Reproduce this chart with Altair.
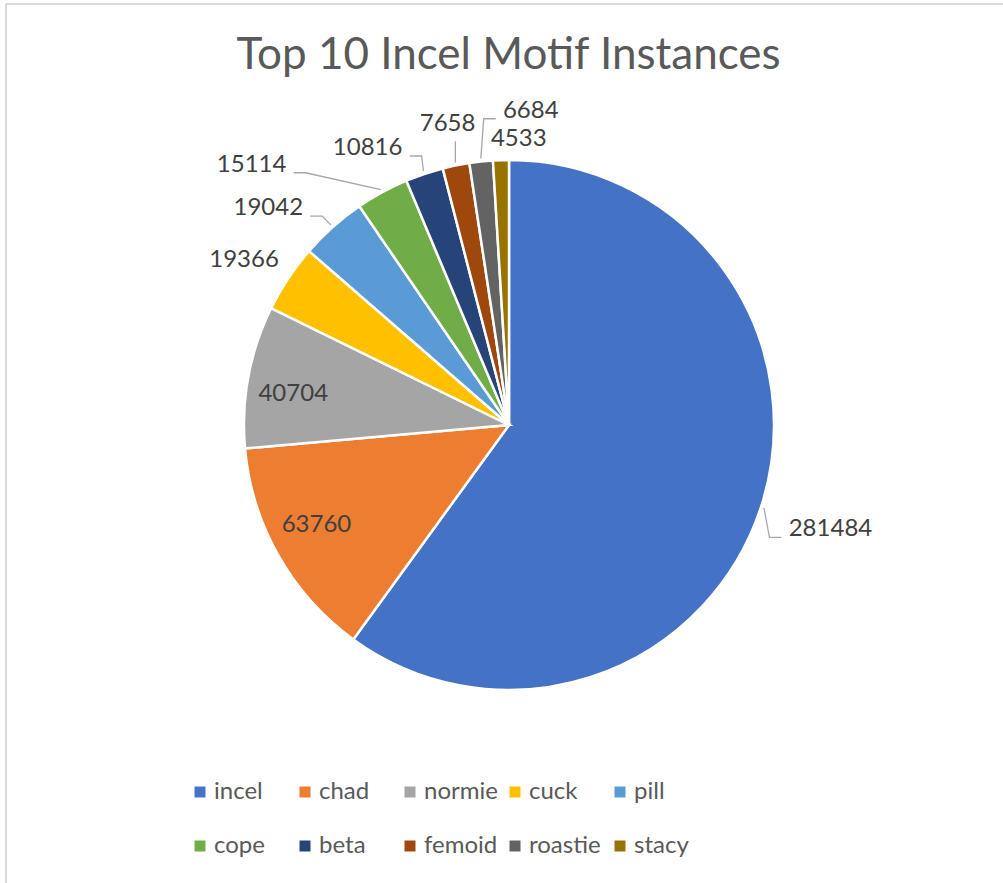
import math
import altair as alt
import pandas as pd

# ---- data ----
motifs = ["incel", "chad", "normie", "cuck", "pill", "cope", "beta", "femoid", "roastie", "stacy"]
counts = [281484, 63760, 40704, 19366, 19042, 15114, 10816, 7658, 6684, 4533]
colors = ["#4472C4", "#ED7D31", "#A5A5A5", "#FFC000", "#5B9BD5",
          "#70AD47", "#264478", "#9E480E", "#636363", "#997300"]
title_text = ["Top 10 Incel Motif Instances"]

# ---- label layout (angle nudge from slice middle in deg, radius in px, leader style) ----
label_nudge = [0, 2.1, -2.3, -1.7, -6.3, -16.1, -8.4, 0, 10, 3.7]
label_radius = [338, 217, 218, 312, 324, 366, 311, 307, 315, 286]
leader_kind = ["right", None, None, None, "left", "left", "left", "up", "right", None]

W, H = 1003, 883
TOP = 100
CX, CY = 509, 425 - TOP
R = 265

total = sum(counts)
rows = []
lines = []
cum = 0
for i, (m, c) in enumerate(zip(motifs, counts)):
    mid = (cum + c / 2) / total * 360
    cum += c
    a = math.radians(mid + label_nudge[i])
    lx = label_radius[i] * math.sin(a)
    ly = -label_radius[i] * math.cos(a)
    rows.append({"motif": m, "count": c, "i": i, "lx": lx, "ly": ly, "label": str(c)})
    kind = leader_kind[i]
    if kind:
        am = math.radians(mid)
        sx = (R + 3) * math.sin(am)
        sy = -(R + 3) * math.cos(am)
        halfw = len(str(c)) * 7
        if kind == "left":
            ex, ey = lx + halfw + 7, ly + 8
            bx, by = ex + 12, ey
        elif kind == "right":
            ex, ey = lx - halfw - 7, ly + 8
            bx, by = ex - 12, ey
        else:
            ex, ey = sx, ly + 17
            bx, by = ex, ey
        for k, (px, py) in enumerate([(sx, sy), (bx, by), (ex, ey)]):
            lines.append({"id": m, "k": k, "lx": px, "ly": py})

df = pd.DataFrame(rows)
ldf = pd.DataFrame(lines)
tdf = pd.DataFrame({"t": title_text})

xs = alt.Scale(domain=[-CX, W - CX], range=[0, W])
ys = alt.Scale(domain=[-CY, H - TOP - CY], range=[0, H - TOP])

color = alt.Color(
    "motif:N",
    sort=motifs,
    scale=alt.Scale(domain=motifs, range=colors),
    legend=alt.Legend(
        orient="none", legendX=188, legendY=680, direction="horizontal",
        columns=5, symbolType="square", symbolSize=121, symbolStrokeWidth=0,
        labelFontSize=24, labelFont="Lato", labelColor="#595959",
        labelOffset=2, gridAlign="all", columnPadding=5, rowPadding=30,
        title=None, padding=0,
    ),
)

border = alt.Chart(tdf).mark_rule(color="#D9D9D9", strokeWidth=2).encode(
    x=alt.value(6), y=alt.value(4 - TOP), y2=alt.value(H - TOP)
) + alt.Chart(tdf).mark_rule(color="#D9D9D9", strokeWidth=2).encode(
    x=alt.value(6), x2=alt.value(W), y=alt.value(4 - TOP)
)

title = alt.Chart(tdf).mark_text(
    font="Lato", fontSize=44, color="#595959", align="center", baseline="alphabetic"
).encode(x=alt.value(508.5), y=alt.value(69 - TOP), text="t:N")

arcs = alt.Chart(df).mark_arc(outerRadius=R, stroke="white", strokeWidth=2.5).encode(
    theta=alt.Theta("count:Q", stack=True),
    order=alt.Order("i:Q"),
    color=color,
    x=alt.value(CX),
    y=alt.value(CY),
)

leaders = alt.Chart(ldf).mark_line(color="#A6A6A6", strokeWidth=1.3).encode(
    x=alt.X("lx:Q", scale=xs, axis=None),
    y=alt.Y("ly:Q", scale=ys, axis=None),
    detail="id:N",
    order="k:Q",
)

labels = alt.Chart(df).mark_text(
    font="Lato", fontSize=24, color="#404040", align="center", baseline="middle"
).encode(
    x=alt.X("lx:Q", scale=xs, axis=None),
    y=alt.Y("ly:Q", scale=ys, axis=None),
    text="label:N",
)

chart = alt.layer(border, title, arcs, leaders, labels).properties(
    width=W,
    height=H - TOP,
    padding={"left": 0, "top": TOP, "right": 0, "bottom": 0},
    autosize=alt.AutoSizeParams(type="none"),
).configure_view(stroke=None)

chart.save("out.html", embed_options={"renderer": "svg", "actions": False})
